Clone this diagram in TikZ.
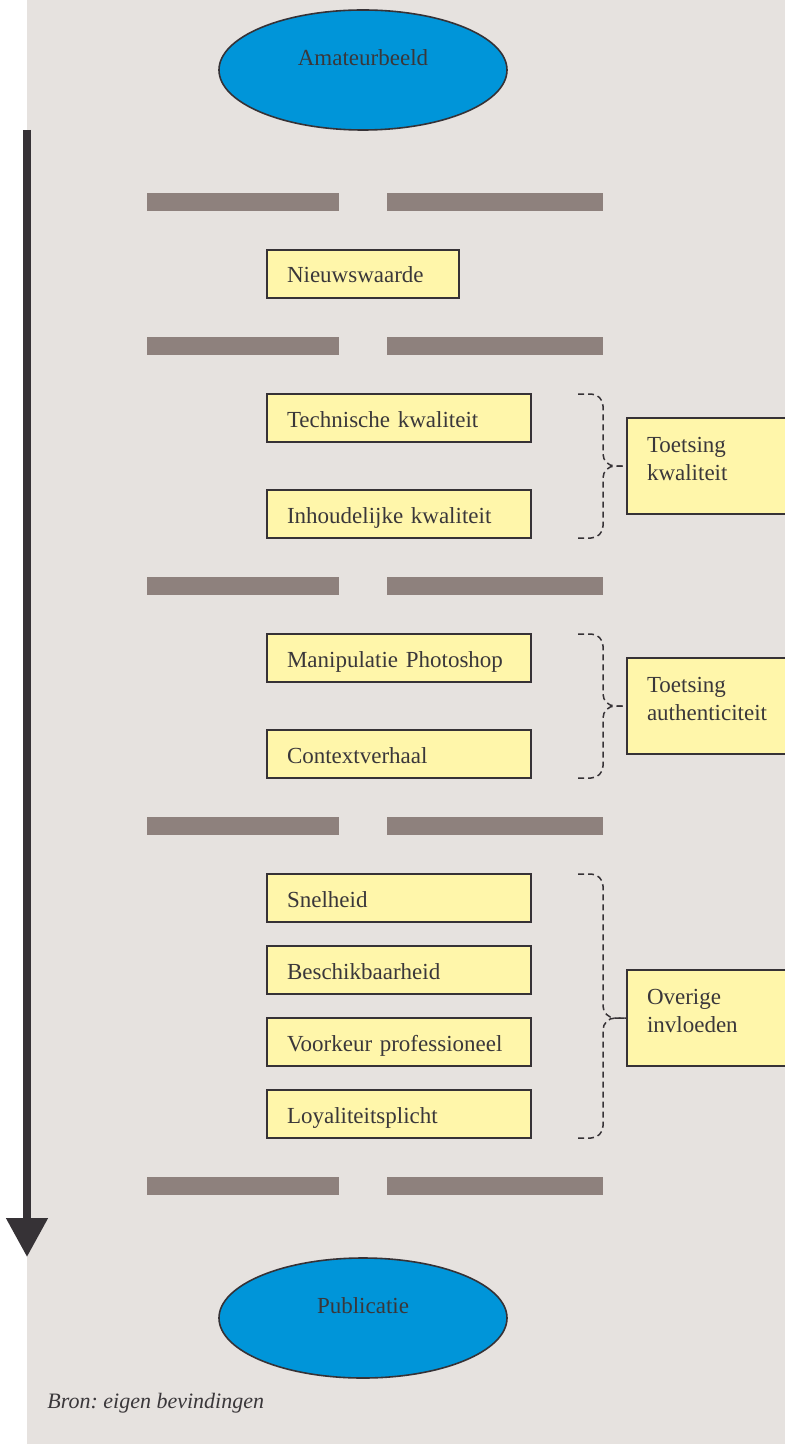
\documentclass[tikz,border=0pt]{standalone}
\usepackage{fontspec}
\setmainfont{Liberation Serif}
\usepackage{tikz}
\usetikzlibrary{positioning,arrows.meta,shapes.geometric,calc}
\definecolor{paper}{HTML}{E6E2DF}
\definecolor{ovalblue}{RGB}{0,149,217}
\definecolor{crityellow}{RGB}{255,246,170}
\definecolor{sepgrey}{HTML}{8E817D}
\definecolor{edgegrey}{HTML}{363236}
\definecolor{inkgrey}{HTML}{3A373A}

\begin{document}
\frenchspacing
\begin{tikzpicture}[
    x=0.5pt, y=-0.5pt,
    every node/.style={font=\fontsize{11.5}{14}\selectfont, text=inkgrey},
    terminal/.style={
        ellipse, draw=edgegrey, fill=ovalblue, line width=0.8pt,
        minimum width=144pt, minimum height=60pt, inner sep=0pt, text depth=12pt
    },
    crit/.style={
        rectangle, draw=edgegrey, fill=crityellow, line width=1pt, outer sep=0pt,
        minimum height=24pt, text width=112pt, inner xsep=10pt, inner ysep=0pt, align=left,
        text height=12pt, text depth=3pt
    },
    group/.style={
        rectangle, draw=edgegrey, fill=crityellow, line width=1pt, outer sep=0pt,
        minimum height=48pt, text width=80pt, inner xsep=10pt, align=left,
        text depth=21pt
    },
    sep/.style={fill=sepgrey},
    bracket/.style={draw=edgegrey, line width=0.75pt, dash pattern=on 3pt off 2pt, rounded corners=6pt},
    flow/.style={draw=edgegrey, line width=4pt, -{Triangle[width=20pt, length=19.5pt]}}
]
\useasboundingbox (0,0) rectangle (785,1444);
\fill[paper] (27,0) rectangle (785,1444);

% time line
\coordinate (flowtop) at (27,130);
\coordinate (flowend) at (27,1257);
\draw[flow] (flowtop) -- (flowend);

% separators between the phases
\foreach \y in {202,346,586,826,1186} {
    \fill[sep] (147,\y-9) rectangle (339,\y+9);
    \fill[sep] (387,\y-9) rectangle (603,\y+9);
}

\node[terminal] (amateur) at (363,70) {Amateurbeeld};

\node[crit, anchor=north west, text width=76pt] (nieuws) at (267,250) {Nieuwswaarde};

\node[crit, anchor=north west] (techn) at (267,394) {Technische kwaliteit};
\node[crit, below=24pt of techn] (inhoud) {Inhoudelijke kwaliteit};

\node[crit, anchor=north west] (manip) at (267,634) {Manipulatie Photoshop};
\node[crit, below=24pt of manip] (context) {Contextverhaal};

\node[crit, anchor=north west] (snel) at (267,874) {Snelheid};
\node[crit, below=12pt of snel] (beschik) {Beschikbaarheid};
\node[crit, below=12pt of beschik] (voorkeur) {Voorkeur professioneel};
\node[crit, below=12pt of voorkeur] (loyal) {Loyaliteitsplicht};

\node[group, anchor=north west] (kwal) at (627,418) {Toetsing\\kwaliteit};
\node[group, anchor=north west] (auth) at (627,658) {Toetsing\\authenticiteit};
\node[group, anchor=north west] (overig) at (627,970) {Overige\\invloeden};

\node[terminal] (publ) at (363,1318) {Publicatie};

\node[anchor=west, inner sep=0pt, font=\fontsize{11}{14}\selectfont\itshape] (bron) at (47,1403) {Bron: eigen bevindingen};

% brackets
\draw[bracket] ($(techn.north east)+(47,0)$) -| ($(kwal.west)+(-24,0)$) -- (kwal.west);
\draw[bracket] ($(inhoud.south east)+(47,0)$) -| ($(kwal.west)+(-24,0)$) -- (kwal.west);
\draw[bracket] ($(manip.north east)+(47,0)$) -| ($(auth.west)+(-24,0)$) -- (auth.west);
\draw[bracket] ($(context.south east)+(47,0)$) -| ($(auth.west)+(-24,0)$) -- (auth.west);
\draw[bracket] ($(snel.north east)+(47,0)$) -| ($(overig.west)+(-24,0)$) -- (overig.west);
\draw[bracket] ($(loyal.south east)+(47,0)$) -| ($(overig.west)+(-24,0)$) -- (overig.west);

\end{tikzpicture}
\end{document}
